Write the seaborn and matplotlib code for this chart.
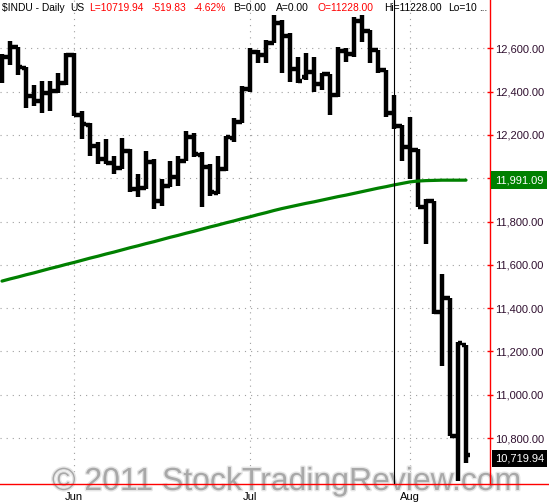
import pandas as pd
import matplotlib
matplotlib.use('Agg')
import matplotlib.pyplot as plt
import matplotlib.patheffects as pe
from matplotlib.lines import Line2D
from matplotlib.ticker import FuncFormatter
import seaborn as sns

# $INDU daily bars, 18 May - 10 Aug 2011
dates = ['2011-05-18', '2011-05-19', '2011-05-20', '2011-05-23', '2011-05-24', '2011-05-25',
         '2011-05-26', '2011-05-27', '2011-05-31', '2011-06-01', '2011-06-02', '2011-06-03',
         '2011-06-06', '2011-06-07', '2011-06-08', '2011-06-09', '2011-06-10', '2011-06-13',
         '2011-06-14', '2011-06-15', '2011-06-16', '2011-06-17', '2011-06-20', '2011-06-21',
         '2011-06-22', '2011-06-23', '2011-06-24', '2011-06-27', '2011-06-28', '2011-06-29',
         '2011-06-30', '2011-07-01', '2011-07-05', '2011-07-06', '2011-07-07', '2011-07-08',
         '2011-07-11', '2011-07-12', '2011-07-13', '2011-07-14', '2011-07-15', '2011-07-18',
         '2011-07-19', '2011-07-20', '2011-07-21', '2011-07-22', '2011-07-25', '2011-07-26',
         '2011-07-27', '2011-07-28', '2011-07-29', '2011-08-01', '2011-08-02', '2011-08-03',
         '2011-08-04', '2011-08-05', '2011-08-08', '2011-08-09', '2011-08-10']

opens = [12479, 12560, 12605, 12511, 12381, 12356, 12394, 12402, 12442, 12569,
         12290, 12248, 12151, 12090, 12070, 12049, 12124, 11952, 11953, 12076,
         11897, 11962, 12004, 12080, 12190, 12109, 12050, 11934, 12043, 12188,
         12261, 12414, 12583, 12569, 12626, 12719, 12657, 12505, 12468, 12492,
         12437, 12479, 12385, 12587, 12572, 12724, 12681, 12593, 12501, 12302,
         12240, 12144, 12132, 11866, 11896, 11384, 11445, 10810, 11228]

highs = [12575, 12632, 12608, 12512, 12432, 12447, 12447, 12487, 12579, 12579,
         12309, 12257, 12165, 12180, 12102, 12185, 12133, 12018, 12124, 12087,
         11995, 12078, 12101, 12216, 12209, 12120, 12064, 12101, 12193, 12280,
         12424, 12602, 12590, 12639, 12753, 12731, 12671, 12561, 12579, 12561,
         12487, 12480, 12607, 12602, 12745, 12754, 12685, 12593, 12501, 12386,
         12248, 12285, 12133, 11903, 11896, 11559, 11445, 11246, 11228]

lows = [12440, 12524, 12478, 12326, 12332, 12303, 12310, 12395, 12432, 12286,
        12179, 12102, 12064, 12064, 12018, 12041, 11938, 11913, 11949, 11857,
        11871, 11959, 11963, 12078, 12100, 11867, 11917, 11926, 12032, 12165,
        12257, 12400, 12530, 12533, 12625, 12487, 12446, 12441, 12455, 12400,
        12409, 12294, 12377, 12538, 12561, 12630, 12533, 12487, 12285, 12225,
        12078, 11995, 11867, 11697, 11375, 11131, 10809, 10600, 10685]

closes = [12560, 12605, 12512, 12381, 12356, 12395, 12403, 12442, 12570, 12290,
          12249, 12151, 12090, 12071, 12049, 12124, 11952, 11953, 12076, 11897,
          11962, 12004, 12080, 12190, 12110, 12050, 11935, 12044, 12189, 12261,
          12414, 12583, 12570, 12626, 12719, 12657, 12506, 12447, 12492, 12437,
          12480, 12385, 12587, 12572, 12724, 12681, 12593, 12501, 12303, 12240,
          12143, 12132, 11867, 11896, 11384, 11445, 10810, 11240, 10720]

# 200-day simple moving average (green line)
ma200 = [11525, 11535, 11544, 11554, 11563, 11573, 11583, 11592, 11602, 11611,
         11621, 11631, 11640, 11650, 11659, 11669, 11679, 11688, 11698, 11707,
         11717, 11727, 11736, 11746, 11755, 11765, 11775, 11784, 11794, 11803,
         11813, 11822, 11832, 11841, 11851, 11860, 11868, 11876, 11884, 11891,
         11899, 11907, 11915, 11922, 11930, 11938, 11946, 11954, 11961, 11969,
         11976, 11983, 11987, 11989, 11990, 11991, 11991, 11991, 11991.09]

price_ticks = [10800, 11000, 11200, 11400, 11600, 11800, 12000, 12200, 12400, 12600]
last_ma = 11991.09
last_close = 10719.94
cursor_date = '2011-07-28'

title_texts = ['$INDU - Daily', 'US', 'L=10719.94', '-519.83', '-4.62%', 'B=0.00',
               'A=0.00', 'O=11228.00', 'Hi=11228.00', 'Lo=10', '...']
title_colors = ['black', 'black', 'red', 'red', 'red', 'black',
                'black', 'red', 'black', 'black', 'black']
title_x = [2, 70, 89, 152, 194, 233, 276, 317, 384, 448, 479]

df = pd.DataFrame({'date': pd.to_datetime(dates), 'open': opens, 'high': highs,
                   'low': lows, 'close': closes, 'ma': ma200})
df['i'] = range(len(df))

sns.set_style('white')
plt.rcParams['font.family'] = ['Liberation Sans', 'DejaVu Sans']

W, H = 549, 503
fig = plt.figure(figsize=(W / 100, H / 100), dpi=100)
ax = fig.add_axes([0, 19 / H, 490 / W, 484 / H])

# dotted grid
month_start = df.index[df['date'].dt.month != df['date'].dt.month.shift()][1:]
week = df['date'].dt.isocalendar().week
week_start = df.index[week != week.shift()][1:]
for y in price_ticks:
    ax.axhline(y, color='#a0a0a0', lw=0.8, ls=(0, (1, 4.5)), zorder=0)
for m in month_start:
    ax.axvline(m, color='#a0a0a0', lw=0.8, ls=(0, (1, 4.5)), zorder=0)

# OHLC bars
ax.vlines(df['i'], df['low'], df['high'], color='black', lw=3.2, zorder=2)
ax.hlines(df['open'], df['i'] - 0.45, df['i'], color='black', lw=3.2, zorder=2)
ax.hlines(df['close'], df['i'], df['i'] + 0.45, color='black', lw=3.2, zorder=2)

sns.lineplot(data=df, x='i', y='ma', color='#008000', lw=2.3, ax=ax, zorder=3)

cursor_i = df.index[df['date'] == pd.Timestamp(cursor_date)][0]
ax.axvline(cursor_i, color='black', lw=0.8, zorder=4)

ax.set_xlim(-0.25, 61)
ax.set_ylim(10588, 12823)
ax.set_xlabel('')
ax.set_ylabel('')

for s in ['left', 'top']:
    ax.spines[s].set_visible(False)
for s in ['right', 'bottom']:
    ax.spines[s].set_color('red')
    ax.spines[s].set_linewidth(1)
fig.add_artist(Line2D([490 / W, 1], [19 / H, 19 / H], color='red', lw=1,
                      transform=fig.transFigure))

ax.yaxis.tick_right()
ax.set_yticks(price_ticks)
ax.yaxis.set_major_formatter(FuncFormatter(lambda v, p: f'{v:,.2f}'))
ax.tick_params(axis='y', colors='red', labelcolor='#301030', direction='inout',
               length=5, width=1, labelsize=8, pad=1.5)

ax.set_xticks(month_start)
ax.set_xticklabels(df.loc[month_start, 'date'].dt.strftime('%b'))
ax.set_xticks(week_start, minor=True)
ax.tick_params(axis='x', which='major', colors='red', labelcolor='black',
               direction='out', length=4, width=1, labelsize=8, pad=2)
ax.tick_params(axis='x', which='minor', colors='red', direction='out',
               length=2.5, width=1)

# last value boxes on the price scale
ax.annotate(f'{last_ma:,.2f}', xy=(1, last_ma), xycoords=('axes fraction', 'data'),
            xytext=(3.5, 0), textcoords='offset points', va='center', ha='left',
            color='white', fontsize=8, annotation_clip=False, zorder=6,
            bbox=dict(boxstyle='square,pad=0.35', fc='#008000', ec='none'))
ax.annotate(f'{last_close:,.2f}', xy=(1, last_close), xycoords=('axes fraction', 'data'),
            xytext=(3.5, -2), textcoords='offset points', va='center', ha='left',
            color='white', fontsize=8, annotation_clip=False, zorder=6,
            bbox=dict(boxstyle='square,pad=0.3', fc='black', ec='none'))

# watermark
ax.text(52 / W, 13 / H, '\u00a9 2011 StockTradingReview.com', transform=fig.transFigure,
        fontsize=23, color='#a8a8a8', va='baseline', ha='left', clip_on=False,
        zorder=0.3, path_effects=[pe.withStroke(linewidth=2, foreground='#e6e6e6')])

# header line
for txt, col, x in zip(title_texts, title_colors, title_x):
    fig.text(x / W, 1 - 8 / H, txt, color=col, fontsize=7.4, va='center', ha='left')

fig.savefig('out.png', dpi=100)
